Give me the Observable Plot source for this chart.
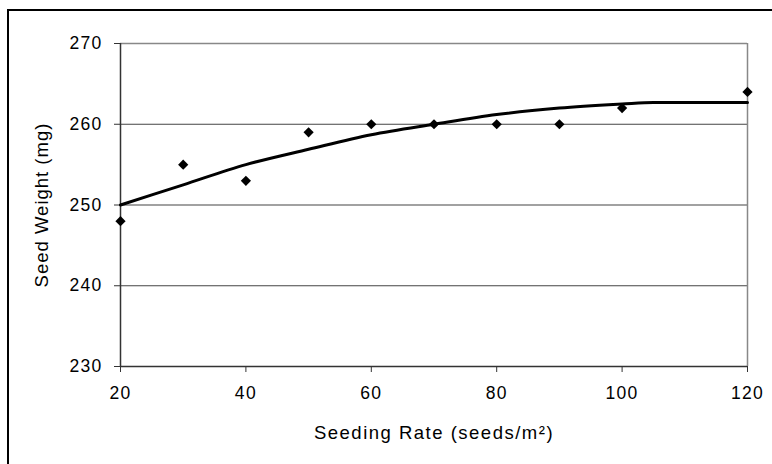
<!DOCTYPE html>
<html>
<head>
<meta charset="utf-8">
<script src="https://cdn.jsdelivr.net/npm/d3@7"></script>
<script src="https://cdn.jsdelivr.net/npm/@observablehq/plot@0.6"></script>
<style>
  html, body { margin: 0; padding: 0; background: #fff; }
  #wrap { position: relative; width: 772px; height: 464px; overflow: hidden; }
  #frame { position: absolute; left: 7px; top: 9px; width: 820px; height: 520px; border: 2px solid #000; pointer-events: none; }
  #chart { position: absolute; left: 0; top: 0; }
</style>
</head>
<body>
<div id="wrap"><div id="chart"></div><div id="frame"></div></div>
<script>
// Observed data (diamonds)
const seedingRate = [20, 30, 40, 50, 60, 70, 80, 90, 100, 120];
const seedWeight  = [248, 255, 253, 259, 260, 260, 260, 260, 262, 264];

// Fitted curve
const fitRate   = [20, 30, 40, 50, 60, 70, 80, 90, 100, 105, 120];
const fitWeight = [250, 252.5, 255, 256.9, 258.7, 260, 261.2, 262, 262.5, 262.7, 262.7];

const xTicks = [20, 40, 60, 80, 100, 120];
const yTicks = [230, 240, 250, 260, 270];
const gridValues = [240, 250, 260];

const obs = seedingRate.map((x, i) => ({x, y: seedWeight[i]}));
const fit = fitRate.map((x, i) => ({x, y: fitWeight[i]}));

const font = "'Liberation Sans', Arial, sans-serif";

const chart = Plot.plot({
  width: 772,
  height: 464,
  marginLeft: 120,
  marginRight: 25,
  marginTop: 43,
  marginBottom: 98,
  style: {fontFamily: font, color: "#000", background: "transparent"},
  x: {domain: [20, 120]},
  y: {domain: [230, 270]},
  marks: [
    Plot.ruleY(gridValues, {stroke: "#444", strokeWidth: 1.2}),
    Plot.ruleY([270], {stroke: "#888", strokeWidth: 1.5}),
    Plot.ruleX([120], {stroke: "#888", strokeWidth: 1.5}),
    Plot.ruleY([230], {stroke: "#333", strokeWidth: 1.5}),
    Plot.ruleX([20], {stroke: "#333", strokeWidth: 1.5}),
    Plot.axisX({
      ticks: xTicks, tickSize: 6, tickPadding: 14, stroke: "#333",
      label: "Seeding Rate (seeds/m²)", labelAnchor: "center", labelArrow: "none", labelOffset: 72
    }),
    Plot.axisY({
      ticks: yTicks, tickSize: 6, tickPadding: 12, stroke: "#333",
      label: "Seed Weight (mg)", labelAnchor: "center", labelArrow: "none", labelOffset: 86
    }),
    Plot.line(fit, {x: "x", y: "y", stroke: "#000", strokeWidth: 3, curve: "monotone-x"}),
    Plot.dot(obs, {x: "x", y: "y", symbol: "diamond2", r: 4.6, fill: "#000", stroke: "none"})
  ]
});
// text styling (size / spacing) applied to the axis text groups
chart.querySelectorAll("g[aria-label$='tick label']").forEach(g => {
  g.querySelectorAll("text").forEach(t => {
    t.style.fontSize = "17.5px";
    t.style.letterSpacing = "1.3px";
    t.style.fill = "#000";
  });
});
chart.querySelectorAll("g[aria-label='x-axis label'] text").forEach(t => {
  t.style.fontSize = "18.5px";
  t.style.letterSpacing = "1.5px";
  t.style.fill = "#000";
});
chart.querySelectorAll("g[aria-label='y-axis label'] text").forEach(t => {
  t.style.fontSize = "18.5px";
  t.style.letterSpacing = "1px";
  t.style.fill = "#000";
});
document.getElementById("chart").appendChild(chart);
</script>
</body>
</html>
